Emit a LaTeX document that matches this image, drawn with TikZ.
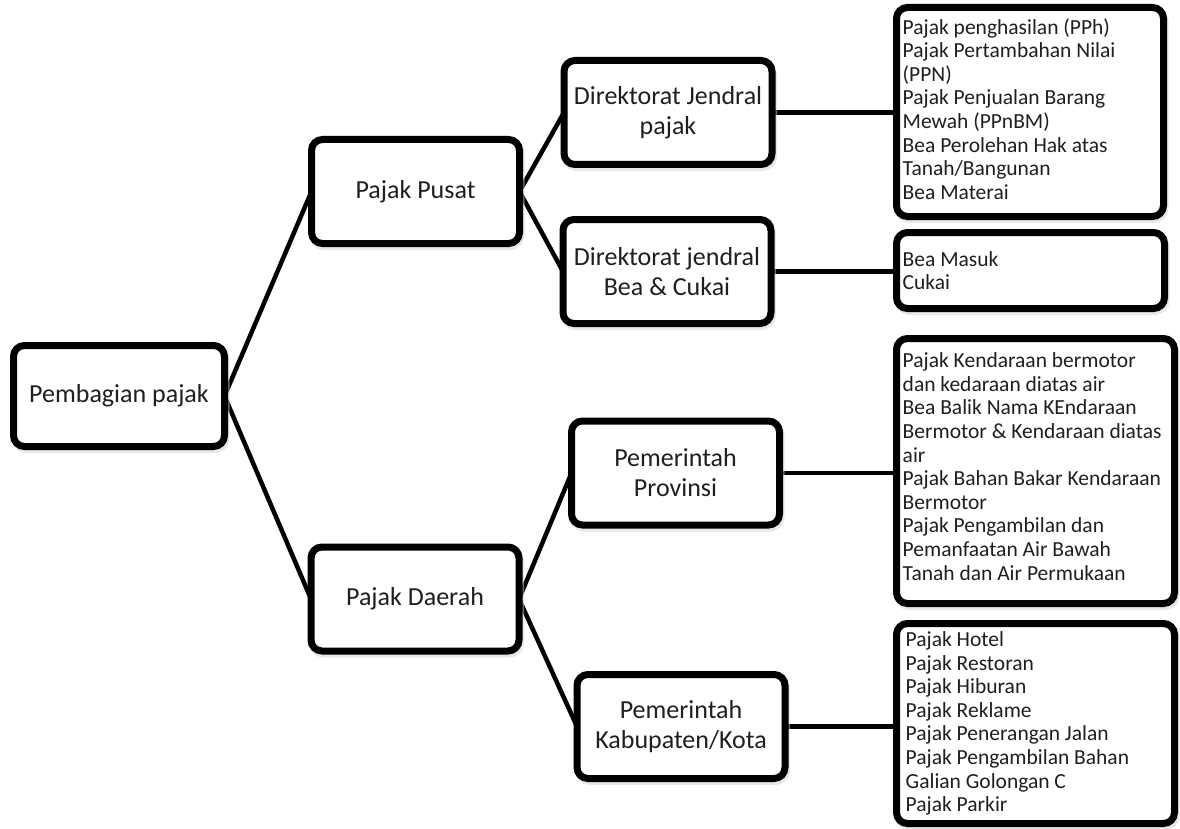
\documentclass[tikz,border=0pt]{standalone}
\usepackage{fontspec}
\setmainfont{Carlito}
\usetikzlibrary{shadows,backgrounds}
\begin{document}
\begin{tikzpicture}[x=1pt,y=-1pt,
  box/.style={draw=black, line width=7pt, rounded corners=11pt, fill=white,
    inner sep=0pt, outer sep=0pt, align=center, text=black!88,
    font=\fontsize{26}{30}\selectfont,
    drop shadow={shadow xshift=1.5pt, shadow yshift=-3pt, draw=black!18, fill=black!18, line width=7pt}},
  midbox/.style={box, minimum width=208pt, minimum height=104pt},
  listtext/.style={font=\fontsize{21.5}{23.6}\selectfont, align=left, inner sep=0pt, text=black!88},
  conn/.style={line width=4.5pt, draw=black}
]
\useasboundingbox (0,0) rectangle (1180,829);

% level 0
\node[box, minimum width=211pt, minimum height=101pt] (root) at (119,396) {Pembagian pajak};
% level 1
\node[midbox] (pusat) at (415.5,191.5) {Pajak Pusat};
\node[midbox] (daerah) at (415,599) {Pajak Daerah};
% level 2
\node[midbox] (djp) at (668,112.5) {Direktorat Jendral\\pajak};
\node[midbox] (djbc) at (667,271.5) {Direktorat jendral\\Bea \& Cukai};
\node[midbox] (prov) at (675.5,473) {Pemerintah\\Provinsi};
\node[midbox] (kab) at (681,726.5) {Pemerintah\\Kabupaten/Kota};
% level 3 boxes
\node[box, minimum width=267pt, minimum height=209pt] (la) at (1030,112) {};
\node[box, minimum width=268pt, minimum height=76pt] (lb) at (1030.5,270.5) {};
\node[box, minimum width=278pt, minimum height=265pt] (lc) at (1035.5,471) {};
\node[box, minimum width=278pt, minimum height=200pt] (ld) at (1035.5,723.5) {};

% list texts
\node[listtext, anchor=west] (ta) at ([xshift=6pt,yshift=3pt]la.west) {Pajak penghasilan (PPh)\\Pajak Pertambahan Nilai\\(PPN)\\Pajak Penjualan Barang\\Mewah (PPnBM)\\Bea Perolehan Hak atas\\Tanah/Bangunan\\Bea Materai};
\node[listtext, anchor=west] (tb) at ([xshift=6pt]lb.west) {Bea Masuk\\Cukai};
\node[listtext, anchor=north west] (tc) at ([xshift=6pt,yshift=-14pt]lc.north west) {Pajak Kendaraan bermotor\\dan kedaraan diatas air\\Bea Balik Nama KEndaraan\\Bermotor \& Kendaraan diatas\\air\\Pajak Bahan Bakar Kendaraan\\Bermotor\\Pajak Pengambilan dan\\Pemanfaatan Air Bawah\\Tanah dan Air Permukaan};
\node[listtext, anchor=west] (td) at ([xshift=9pt]ld.west) {Pajak Hotel\\Pajak Restoran\\Pajak Hiburan\\Pajak Reklame\\Pajak Penerangan Jalan\\Pajak Pengambilan Bahan\\Galian Golongan C\\Pajak Parkir};

\begin{scope}[on background layer]
\draw[conn] (root.east) -- (pusat.west);
\draw[conn] (root.east) -- (daerah.west);
\draw[conn] (pusat.east) -- (djp.west);
\draw[conn] (pusat.east) -- (djbc.west);
\draw[conn] (daerah.east) -- (prov.west);
\draw[conn] (daerah.east) -- (kab.west);
\draw[conn] (djp.east) -- (la.west |- djp.east);
\draw[conn] (djbc.east) -- (lb.west |- djbc.east);
\draw[conn] (prov.east) -- (lc.west |- prov.east);
\draw[conn] (kab.east) -- (ld.west |- kab.east);
\end{scope}
\end{tikzpicture}
\end{document}
